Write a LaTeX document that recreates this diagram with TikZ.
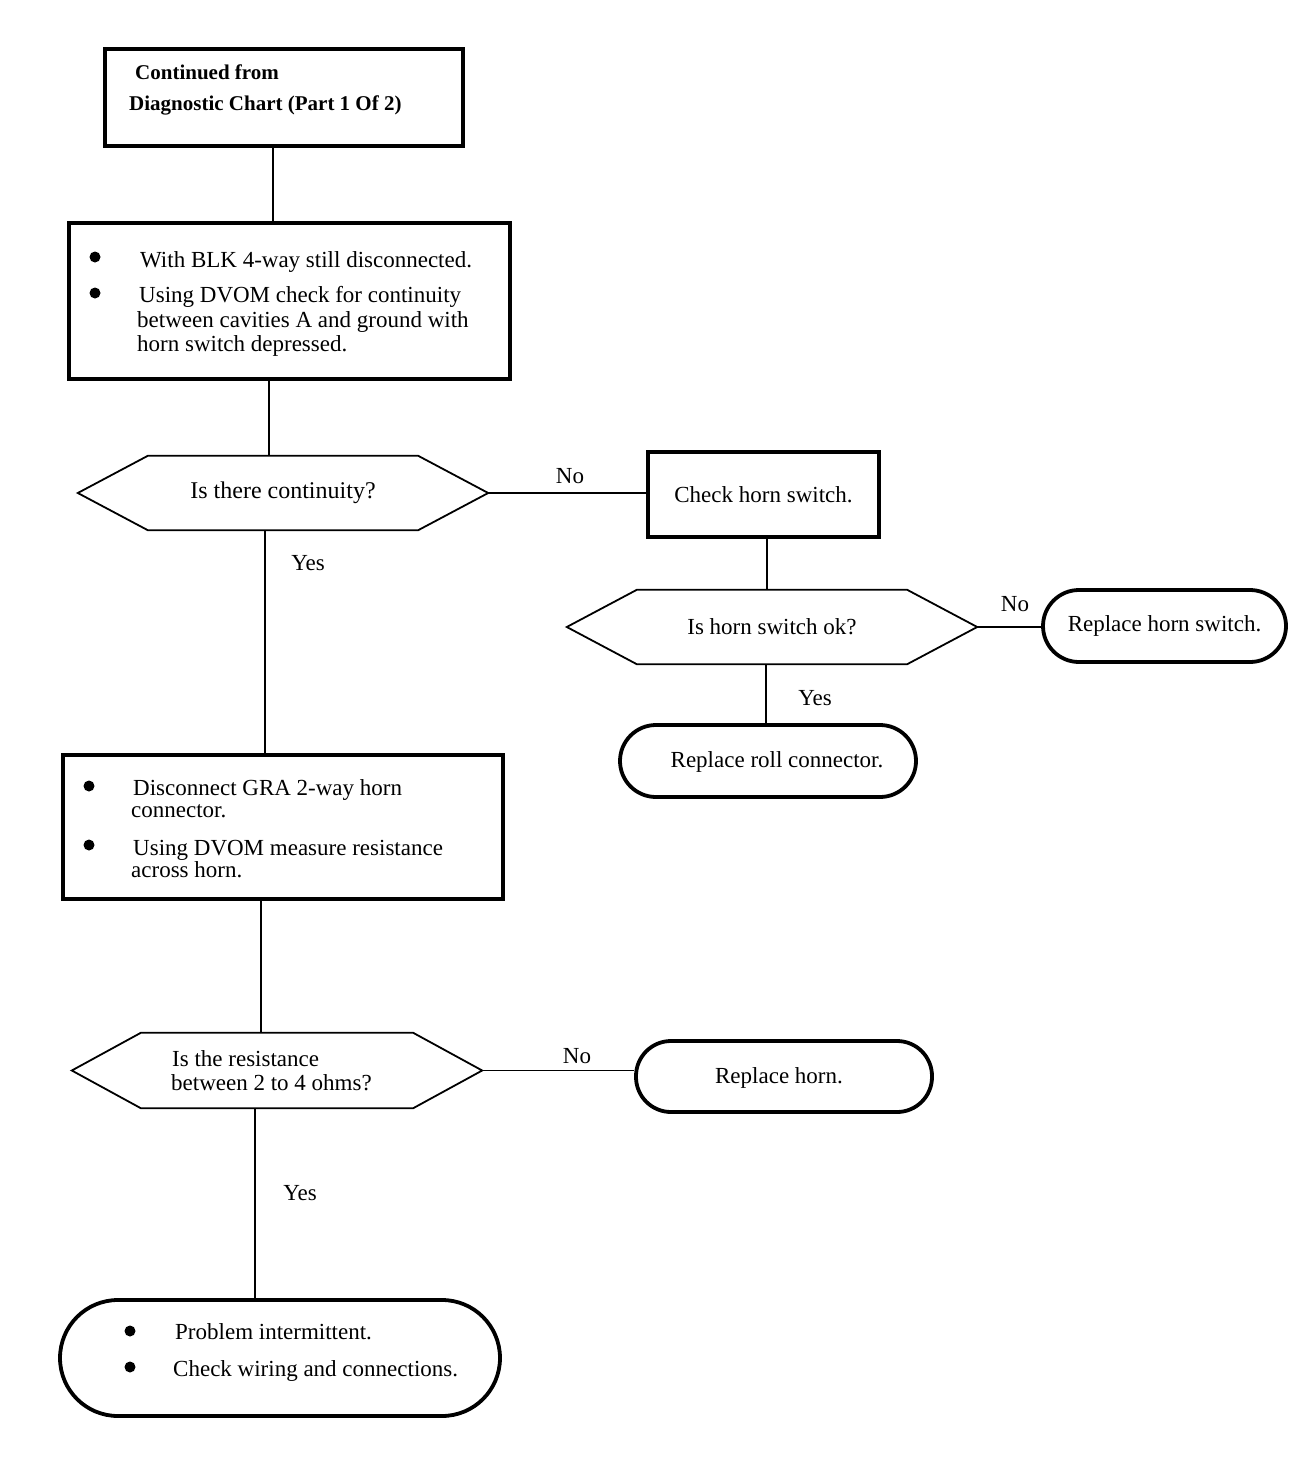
\documentclass[tikz,border=0pt]{standalone}
\usepackage{fontspec}
\setmainfont{Liberation Serif}
\newcommand{\hexa}[2]{\draw[hexline] (#1.west) -- ([xshift=#2]#1.north west) -- ([xshift=-#2]#1.north east) -- (#1.east) -- ([xshift=-#2]#1.south east) -- ([xshift=#2]#1.south west) -- cycle;}
\tikzset{
  txt/.style={font=\fontsize{23}{26}\selectfont, inner sep=0pt},
  lt/.style={txt, anchor=base west},
  bld/.style={lt, font=\bfseries\fontsize{21}{24}\selectfont},
  box/.style={draw, line width=3.2pt, inner sep=0pt, txt},
  term/.style={draw, line width=3.8pt, inner sep=0pt, txt},
  hexn/.style={inner sep=0pt, txt},
  hexline/.style={line width=1.8pt, line join=miter},
  conn/.style={line width=1.6pt},
  lbl/.style={txt}
}
\begin{document}
\begin{tikzpicture}[x=1pt,y=-1pt]
\useasboundingbox (0,0) rectangle (1312,1472);
% box 1
\node[box, minimum width=358pt, minimum height=97pt] (b1) at (284,97.5) {};
\node[bld] (b1a) at (135,79) {Continued from};
\node[bld] (b1b) at (129,110) {Diagnostic Chart (Part 1 Of 2)};
% box 2
\node[box, minimum width=441pt, minimum height=156pt] (b2) at (289.5,301) {};
\node[lt] (b2a) at (140,267) {With BLK 4-way still disconnected.};
\node[lt] (b2b) at (139,302) {Using DVOM check for continuity};
\node[lt] (b2c) at (137,327) {between cavities A and ground with};
\node[lt] (b2d) at (137,351) {horn switch depressed.};
\fill (95,257) circle (5.5pt) (95,293) circle (5.5pt);
% hex 1
\node[hexn, minimum width=410pt, minimum height=74pt, font=\fontsize{24}{26}\selectfont] (h1) at (283,493) {Is there continuity?};
\hexa{h1}{70pt}
% check horn switch
\node[box, minimum width=231pt, minimum height=85pt] (c1) at (763.5,494.5) {Check horn switch.};
% hex 2
\node[hexn, minimum width=410pt, minimum height=74pt] (h2) at (772,627) {Is horn switch ok?};
\hexa{h2}{70pt}
\node[term, rounded corners=36pt, minimum width=243pt, minimum height=72pt] (rhs) at (1164.5,626) {Replace horn switch.};
\node[term, rounded corners=36pt, minimum width=296pt, minimum height=72pt] (rrc) at (768,761) {};
\node[txt] (rrct) at (777,762) {Replace roll connector.};
% box 3
\node[box, minimum width=440pt, minimum height=144pt] (b3) at (283,827) {};
\node[lt] (b3a) at (133,795) {Disconnect GRA 2-way horn};
\node[lt] (b3b) at (131,817) {connector.};
\node[lt] (b3c) at (133,855) {Using DVOM measure resistance};
\node[lt] (b3d) at (131,877) {across horn.};
\fill (89,786) circle (5.5pt) (89,845) circle (5.5pt);
% hex 3
\node[hexn, minimum width=410pt, minimum height=75pt] (h3) at (277,1070.5) {};
\hexa{h3}{69pt}
\node[lt] (h3a) at (172,1066) {Is the resistance};
\node[lt] (h3b) at (171,1090) {between 2 to 4 ohms?};
\node[term, rounded corners=35pt, minimum width=296pt, minimum height=71pt] (rh) at (784,1076.5) {};
\node[txt] (rht) at (779,1078) {Replace horn.};
% end
\node[term, rounded corners=58pt, minimum width=440pt, minimum height=116pt] (en) at (280,1358) {};
\node[lt] (ena) at (175,1339) {Problem intermittent.};
\node[lt] (enb) at (173,1376) {Check wiring and connections.};
\fill (130,1331) circle (5.5pt) (130,1367) circle (5.5pt);
% labels
\node[lbl] (l1) at (570,476) {No};
\node[lbl] (l2) at (308,563) {Yes};
\node[lbl] (l3) at (1015,604) {No};
\node[lbl] (l4) at (815,698) {Yes};
\node[lbl] (l5) at (577,1056) {No};
\node[lbl] (l6) at (300,1193) {Yes};
% connectors
\draw[conn] ([xshift=-11pt]b1.south) -- ([xshift=-16.5pt]b2.north);
\draw[conn] ([xshift=-20.5pt]b2.south) -- ([xshift=-14pt]h1.north);
\draw[conn] ([xshift=-18pt]h1.south) -- ([xshift=-18pt]b3.north);
\draw[conn] ([xshift=-22pt]b3.south) -- ([xshift=-16pt]h3.north);
\draw[conn] ([xshift=-22pt]h3.south) -- ([xshift=-25pt]en.north);
\draw[conn] (h1.east) -- (h1.east -| c1.west);
\draw[conn] ([xshift=3.5pt]c1.south) -- ([xshift=-5pt]h2.north);
\draw[conn] (h2.east) -- (h2.east -| rhs.west);
\draw[conn] ([xshift=-6pt]h2.south) -- ([xshift=-2pt]rrc.north);
\draw[conn] (h3.east) -- (h3.east -| rh.west);
\end{tikzpicture}
\end{document}
